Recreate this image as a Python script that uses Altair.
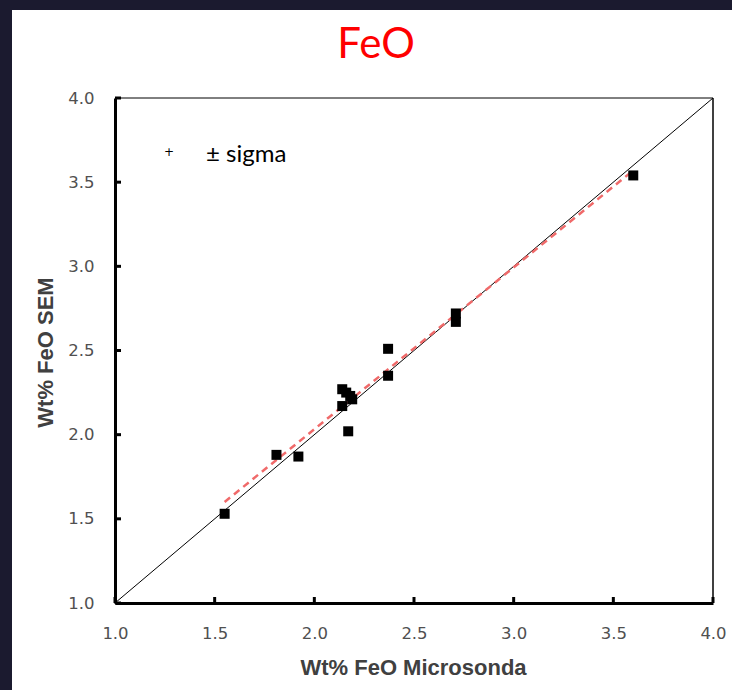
import altair as alt
import pandas as pd

# Data
x_micro = [1.55, 1.81, 1.92, 2.17, 2.14, 2.14, 2.16, 2.18, 2.19, 2.37, 2.37, 2.71, 2.71, 3.60]
y_sem   = [1.53, 1.88, 1.87, 2.02, 2.17, 2.27, 2.25, 2.23, 2.21, 2.51, 2.35, 2.72, 2.67, 3.54]

diag_vals = [1.0, 4.0]
fit_x = [1.55, 3.60]
fit_y = [1.60, 3.57]
tick_vals = [1.0, 1.5, 2.0, 2.5, 3.0, 3.5, 4.0]

pts = pd.DataFrame({"x": x_micro, "y": y_sem})
diag = pd.DataFrame({"x": diag_vals, "y": diag_vals})
fit = pd.DataFrame({"x": fit_x, "y": fit_y})
ticks = pd.DataFrame({"v": tick_vals})

W, H = 598, 505
PL, PT = 115, 98
dom = [1.0, 4.0]

xs = alt.Scale(domain=dom, nice=False, zero=False)
ys = alt.Scale(domain=dom, nice=False, zero=False)

common = dict(values=tick_vals, format=".1f", domainColor="black", domainWidth=3, tickSize=0,
              labelColor="#505050", labelFontSize=16.5, labelFont="DejaVu Sans",
              titleFont="Liberation Sans", titleFontSize=22, titleFontWeight="bold",
              titleColor="#404040", titleBaseline="middle", grid=False, labelFlush=False, zindex=2)

xaxis = alt.Axis(title="Wt% FeO Microsonda", labelPadding=22,
                 titleX=413 - PL, titleY=667 - PT - H, **common)
yaxis = alt.Axis(title="Wt% FeO SEM", labelPadding=21,
                 titleX=45 - PL, titleY=352 - PT, titleAngle=-90, **common)

one = pd.DataFrame({"a": [0]})

panel = alt.Chart(one).mark_rect(color="white", clip=False).encode(
    x=alt.value(12 - PL), x2=alt.value(732 - PL),
    y=alt.value(10 - PT), y2=alt.value(690 - PT))

top_border = alt.Chart(one).mark_rule(color="black", strokeWidth=1).encode(
    x=alt.value(0), x2=alt.value(W), y=alt.value(0))
right_border = alt.Chart(one).mark_rule(color="black", strokeWidth=1.5).encode(
    x=alt.value(W), y=alt.value(0), y2=alt.value(H))

diag_line = alt.Chart(diag).mark_line(color="black", strokeWidth=1).encode(
    x=alt.X("x:Q", scale=xs, axis=xaxis),
    y=alt.Y("y:Q", scale=ys, axis=yaxis))

fit_line = alt.Chart(fit).mark_line(color="#f06a6a", strokeWidth=2.5, strokeDash=[7, 5]).encode(
    x=alt.X("x:Q", scale=xs), y=alt.Y("y:Q", scale=ys))

points = alt.Chart(pts).mark_point(shape="square", filled=True, color="black", size=100, opacity=1).encode(
    x=alt.X("x:Q", scale=xs), y=alt.Y("y:Q", scale=ys))

yticks = alt.Chart(ticks).mark_rule(color="black", strokeWidth=3).encode(
    y=alt.Y("v:Q", scale=ys), x=alt.value(0), x2=alt.value(6))
xticks = alt.Chart(ticks).mark_rule(color="black", strokeWidth=3).encode(
    x=alt.X("v:Q", scale=xs), y=alt.value(H), y2=alt.value(H - 6))

plus = alt.Chart(pd.DataFrame({"t": ["+"]})).mark_text(
    fontSize=12, font="DejaVu Sans", color="black", align="center", baseline="middle").encode(
    text="t:N", x=alt.value(169 - PL), y=alt.value(152 - PT))
sigma = alt.Chart(pd.DataFrame({"t": ["± sigma"]})).mark_text(
    fontSize=24, font="Lato", color="black", align="left", baseline="alphabetic").encode(
    text="t:N", x=alt.value(206 - PL), y=alt.value(162 - PT))

title = alt.Chart(pd.DataFrame({"t": ["FeO"]})).mark_text(
    fontSize=42, font="Lato", color="#ff0000", align="center", baseline="alphabetic").encode(
    text="t:N", x=alt.value(376 - PL), y=alt.value(58 - PT))

chart = alt.layer(panel, top_border, right_border, diag_line, fit_line, points,
                  yticks, xticks, plus, sigma, title).properties(
    width=W, height=H,
    autosize=alt.AutoSizeParams(type="none"),
    padding={"left": PL, "top": PT, "right": 732 - PL - W, "bottom": 690 - PT - H},
    background="#1b1a2f",
).configure_view(stroke=None, fill="white")

chart.save("out.html", embed_options={"renderer": "svg", "actions": False})
